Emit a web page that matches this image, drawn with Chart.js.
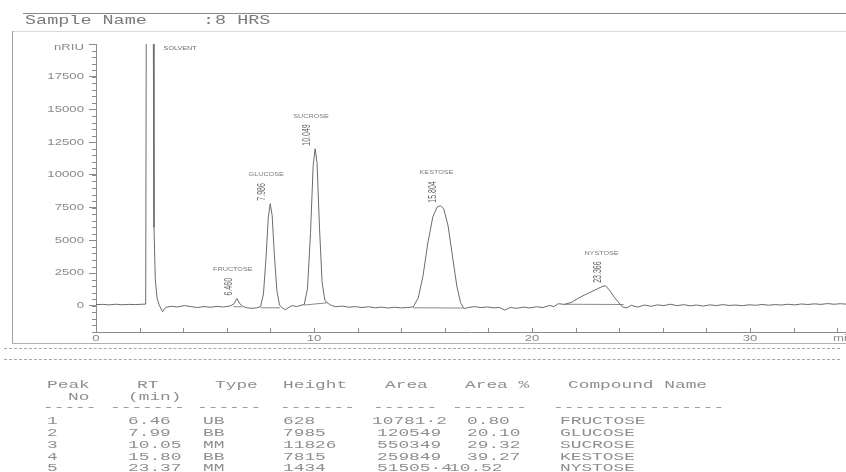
<!DOCTYPE html>
<html>
<head>
<meta charset="utf-8">
<script src="https://cdn.jsdelivr.net/npm/chart.js@4/dist/chart.umd.min.js"></script>
<style>
  body { margin: 0; background: #fff; }
  #page { position: relative; width: 846px; height: 472px; overflow: hidden; background: #fff; }
  #chromCanvas { position: absolute; left: 0; top: 0; }
  .mono {
    position: absolute; white-space: pre; font-family: "Liberation Mono", monospace;
    font-size: 11px; line-height: 12px; color: #8e8e8e; transform: scaleX(1.62); transform-origin: 0 50%;
  }
  .head { font-size: 13px; line-height: 14px; color: #7a7a7a; transform: scaleX(1.42); }
  .rule { position: absolute; height: 0; }
</style>
</head>
<body>
<div id="page">
  <canvas id="chromCanvas" width="846" height="472"></canvas>
  <div id="sheet"></div>
</div>
<script>
// chromatogram trace (min, nRIU)
const traceTime = [0.0, 0.3, 0.6, 0.9, 1.2, 1.5, 1.8, 2.1, 2.28, 2.31, 2.62, 2.66, 2.72, 2.8, 2.9, 3.05, 3.2, 3.45, 3.75,
  4.05, 4.35, 4.65, 4.95, 5.25, 5.55, 5.85, 6.15, 6.33, 6.46, 6.6, 6.75, 6.95, 7.15, 7.35, 7.55, 7.68, 7.8, 7.9, 7.99,
  8.08, 8.18, 8.3, 8.42, 8.55, 8.68, 8.85, 9.0, 9.2, 9.4, 9.55, 9.7, 9.84, 9.96, 10.05, 10.14, 10.25, 10.37, 10.5,
  10.65, 10.8, 11.0, 11.3, 11.6, 11.9, 12.2, 12.5, 12.8, 13.1, 13.4, 13.7, 14.0, 14.3, 14.55, 14.78, 15.0, 15.22,
  15.45, 15.65, 15.8, 15.95, 16.15, 16.35, 16.55, 16.72, 16.88, 17.05, 17.35, 17.65, 17.95, 18.25, 18.5, 18.75, 19.0,
  19.3, 19.6, 19.9, 20.2, 20.5, 20.8, 21.0, 21.2, 21.5, 21.8, 22.1, 22.4, 22.7, 23.0, 23.2, 23.37, 23.55, 23.75,
  23.95, 24.15, 24.35, 24.55, 24.85, 25.15, 25.45, 25.75, 26.05, 26.35, 26.65, 26.95, 27.25, 27.55, 27.85, 28.15,
  28.45, 28.75, 29.05, 29.35, 29.65, 29.95, 30.25, 30.55, 30.85, 31.15, 31.45, 31.75, 32.05, 32.35, 32.65, 32.95,
  33.25, 33.55, 33.85, 34.15, 34.4];
const traceSignal = [90, 110, 70, 120, 80, 110, 90, 120, 130, 25000, 25000, 6000, 2000, 600, 50, -450, -120, -40, -90,
  20, -60, -130, -60, -110, -40, -90, -10, 150, 560, 150, -60, -160, -190, -160, -60, 900, 3700, 6700, 7800,
  6900, 3900, 1100, 50, -150, -300, -120, 20, -60, 40, 100, 1300, 5600, 10700, 12000, 10900, 6000, 1800, 400,
  180, 30, -70, -20, -110, -60, -130, -70, -150, -100, -170, -110, -160, -130, -80, 600, 2300, 4800,
  6800, 7550, 7650, 7400, 6100, 3800, 1500, 250, -220, -140, -60, -130, -90, -160, -120, -330, -130,
  -190, -100, -160, -70, -130, 30, -60, 160, 110, 260, 560, 820, 1060, 1300, 1460, 1530, 1200, 700,
  300, -90, -160, 40, -100, 60, -40, 70, 20, 120, 10, 90, 0, 60, -20, 70,
  20, 90, 30, 60, 10, 80, 40, 100, 50, 90, 60, 120, 70, 140, 100, 150,
  110, 170, 120, 160, 130];

// integration baselines drawn under the peaks
const baseFromTime = [6.3, 7.55, 9.55, 14.55, 21.5];
const baseFromSignal = [-60, -150, 60, -150, 120];
const baseToTime = [6.7, 8.45, 10.6, 16.85, 24.2];
const baseToSignal = [-80, -150, 230, -170, 100];

// peak annotations
const peakLabelRT = ['6.460', '7.986', '10.049', '15.804', '23.366'];
const peakApexTime = [6.46, 7.99, 10.05, 15.8, 23.37];
const peakApexSignal = [560, 7800, 12000, 7650, 1530];
const solventLabelTime = 3.1;
const solventLabelSignal = 19600;

// axes
const xTicks = [0, 10, 20, 30];
const xMinorStep = 2;
const xMin = 0, xMax = 34.4;
const yTicks = [0, 2500, 5000, 7500, 10000, 12500, 15000, 17500, 20000];
const yMinorStep = 500;
const yMin = -2000, yMax = 20000;
const yUnit = 'nRIU';
const xUnit = 'min';

// report table
const sampleName = '8 HRS';
const tableHeadTop = ['Peak', 'RT', 'Type', 'Height', 'Area', 'Area %', 'Compound Name'];
const tableHeadSub = ['No', '(min)'];
const peakNo = ['1', '2', '3', '4', '5'];
const peakRT = ['6.46', '7.99', '10.05', '15.80', '23.37'];
const peakType = ['UB', 'BB', 'MM', 'BB', 'MM'];
const peakHeight = ['628', '7985', '11826', '7815', '1434'];
const peakArea = ['10781\u00b72', '120549', '550349', '259849', '51505\u00b74'];
const peakAreaPct = ['0.80', '20.10', '29.32', '39.27', '10.52'];
const compoundName = ['FRUCTOSE', 'GLUCOSE', 'SUCROSE', 'KESTOSE', 'NYSTOSE'];

// ---------- page furniture ----------
const sheet = document.getElementById('sheet');
function addText(txt, left, midY, cls) {
  const s = document.createElement('span');
  s.className = 'mono' + (cls ? ' ' + cls : '');
  s.textContent = txt;
  const lh = cls === 'head' ? 14 : 12;
  s.style.left = left + 'px';
  s.style.top = (midY - lh / 2) + 'px';
  sheet.appendChild(s);
}
function addRule(left, top, width, style) {
  const d = document.createElement('div');
  d.className = 'rule';
  d.style.left = left + 'px';
  d.style.top = top + 'px';
  d.style.width = width + 'px';
  d.style.borderTop = style;
  sheet.appendChild(d);
}
function addVRule(left, top, height, style) {
  const d = document.createElement('div');
  d.style.position = 'absolute';
  d.style.left = left + 'px';
  d.style.top = top + 'px';
  d.style.height = height + 'px';
  d.style.borderLeft = style;
  sheet.appendChild(d);
}

addRule(23, 13, 823, '1px solid #8a8a8a');
addText('Sample Name', 25, 21, 'head');
addText(':', 203, 21, 'head');
addText(sampleName, 215, 21, 'head');
addRule(12, 31, 834, '1px solid #dadada');
addVRule(12, 31, 312, '1px solid #a0a0a0');
addRule(12, 343, 834, '1px solid #b0b0b0');
addRule(4, 348, 836, '1px dashed #a8a8a8');
addRule(4, 359, 836, '1px dashed #a8a8a8');

const headX = [47, 137, 215, 283, 385, 465, 568];
tableHeadTop.forEach((t, i) => addText(t, headX[i], 385));
addText(tableHeadSub[0], 68, 397);
addText(tableHeadSub[1], 128, 397);
const dashX = [43, 110, 197, 280, 373, 452, 553];
const dashN = [5, 7, 6, 7, 6, 7, 16];
dashX.forEach((x, i) => addText('-'.repeat(dashN[i]), x, 407));
const rowY = [421, 433, 445, 457, 468];
peakNo.forEach((n, i) => {
  addText(n, 47, rowY[i]);
  addText(peakRT[i], 128, rowY[i]);
  addText(peakType[i], 203, rowY[i]);
  addText(peakHeight[i], 283, rowY[i]);
  addText(peakArea[i], i === 0 ? 372 : 377, rowY[i]);
  addText(peakAreaPct[i], i === 4 ? 449 : 467, rowY[i]);
  addText(compoundName[i], 560, rowY[i]);
});

// ---------- chart ----------
function wideText(ctx, txt, px, py, size, align, stretch, vertical) {
  ctx.save();
  ctx.translate(px, py);
  ctx.scale(stretch, 1);
  if (vertical) ctx.rotate(-Math.PI / 2);
  ctx.font = size + 'px "Liberation Sans", Arial, sans-serif';
  ctx.textAlign = align;
  ctx.textBaseline = 'middle';
  ctx.fillText(txt, 0, 0);
  ctx.restore();
}

const chromDecor = {
  id: 'chromDecor',
  afterDraw(chart) {
    const { ctx, chartArea: a } = chart;
    const x = chart.scales.x, y = chart.scales.y;
    ctx.save();
    ctx.strokeStyle = '#8c8c8c';
    ctx.lineWidth = 1;
    // minor y ticks
    for (let k = 0; yMin + k * yMinorStep <= yMax; k++) {
      const py = Math.round(y.getPixelForValue(yMin + k * yMinorStep)) + 0.5;
      ctx.beginPath(); ctx.moveTo(a.left - 4, py); ctx.lineTo(a.left, py); ctx.stroke();
    }
    // x ticks point up into the plot
    for (let k = 0; xMin + k * xMinorStep <= xMax; k++) {
      const px = Math.round(x.getPixelForValue(xMin + k * xMinorStep)) + 0.5;
      ctx.beginPath(); ctx.moveTo(px, a.bottom); ctx.lineTo(px, a.bottom - 4); ctx.stroke();
    }
    // axis labels, stretched like the scan
    ctx.fillStyle = '#8a8a8a';
    yTicks.forEach(v => {
      const py = y.getPixelForValue(v);
      const txt = v === yMax ? yUnit : String(v);
      wideText(ctx, txt, a.left - 12, v === yMax ? py + 4 : py, 8.5, 'right', 1.55, false);
    });
    xTicks.forEach(v => {
      wideText(ctx, String(v), x.getPixelForValue(v), a.bottom + 7, 8.5, 'center', 1.55, false);
    });
    wideText(ctx, xUnit, x.getPixelForValue(33.8), a.bottom + 7, 8.5, 'left', 1.55, false);

    // peak annotations
    ctx.fillStyle = '#6e6e6e';
    wideText(ctx, 'SOLVENT', x.getPixelForValue(solventLabelTime), y.getPixelForValue(solventLabelSignal), 4.5, 'left', 1.6, false);
    peakLabelRT.forEach((lab, i) => {
      const px = x.getPixelForValue(peakApexTime[i]);
      const py = y.getPixelForValue(peakApexSignal[i]);
      ctx.font = '7px "Liberation Sans", Arial, sans-serif';
      const len = ctx.measureText(lab).width;
      ctx.fillStyle = '#5e5e5e';
      wideText(ctx, lab, px - 8, py - 3, 7, 'left', 1.6, true);
      ctx.fillStyle = '#7a7a7a';
      wideText(ctx, compoundName[i], px - 4, py - 3 - len - 8, 4.5, 'center', 1.6, false);
    });
    ctx.restore();
  }
};

const datasets = [{
  data: traceTime.map((t, i) => ({ x: t, y: traceSignal[i] })),
  borderColor: '#6b6b6b',
  borderWidth: 1,
  pointRadius: 0,
  tension: 0
}];
baseFromTime.forEach((t, i) => {
  datasets.push({
    data: [{ x: t, y: baseFromSignal[i] }, { x: baseToTime[i], y: baseToSignal[i] }],
    borderColor: '#8a8a8a',
    borderWidth: 1,
    pointRadius: 0
  });
});

new Chart(document.getElementById('chromCanvas'), {
  type: 'line',
  data: { datasets },
  options: {
    responsive: false,
    animation: false,
    devicePixelRatio: 1,
    layout: { padding: { top: 44, right: 0, bottom: 124, left: 0 } },
    plugins: { legend: { display: false }, tooltip: { enabled: false } },
    scales: {
      x: {
        type: 'linear',
        min: xMin,
        max: xMax,
        afterBuildTicks: s => { s.ticks = xTicks.map(v => ({ value: v })); },
        afterFit: s => { s.height = 16; },
        ticks: { display: false },
        grid: { display: false },
        border: { color: '#8c8c8c' }
      },
      y: {
        min: yMin,
        max: yMax,
        afterBuildTicks: s => { s.ticks = yTicks.map(v => ({ value: v })); },
        afterFit: s => { s.width = 96; },
        ticks: { display: false },
        grid: { drawOnChartArea: false, tickLength: 7, color: '#8c8c8c' },
        border: { color: '#8c8c8c' }
      }
    }
  },
  plugins: [chromDecor]
});
</script>
</body>
</html>
